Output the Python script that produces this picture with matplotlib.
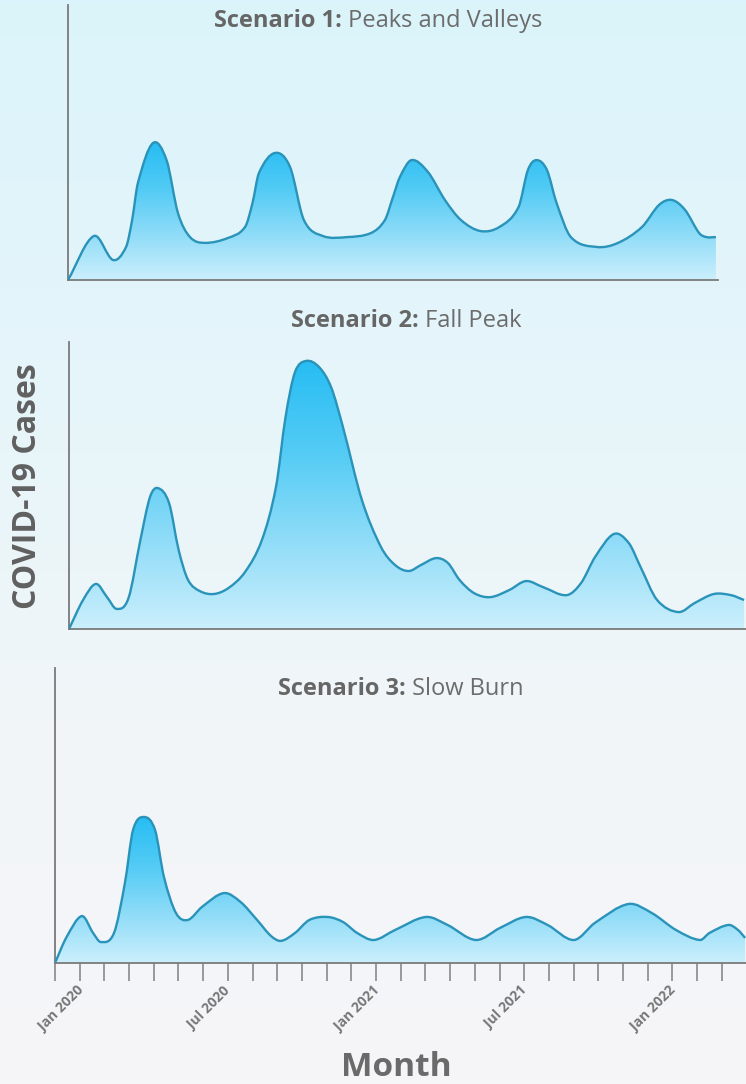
import numpy as np
import matplotlib.pyplot as plt
import matplotlib.transforms as mtransforms
from matplotlib.path import Path
from matplotlib.patches import PathPatch
from matplotlib.colors import LinearSegmentedColormap

plt.rcParams['font.family'] = ['Open Sans', 'DejaVu Sans']

# months since Jan 2020 and relative case level (0-100 of panel height)
s1_month = [0.0, 1.05, 1.82, 2.35, 2.6, 2.83, 3.44, 3.99, 4.45, 4.94, 5.53, 6.48, 7.17,
            7.47, 7.73, 8.38, 8.99, 9.55, 10.32, 11.30, 12.27, 12.83, 13.15, 13.44, 13.91,
            14.57, 15.26, 15.91, 16.70, 17.47, 18.24, 18.62, 18.97, 19.39, 19.78, 20.36,
            21.42, 22.27, 23.24, 23.93, 24.45, 24.98, 25.55, 25.85, 26.23]
s1_cases = [0.0, 16.0, 7.3, 12.0, 22.0, 35.3, 49.8, 43.6, 24.4, 15.6, 13.5, 15.3, 19.3,
            28.0, 38.9, 46.2, 41.1, 21.8, 16.0, 15.6, 17.1, 21.8, 30.0, 37.5, 43.6,
            39.3, 29.1, 21.8, 17.8, 19.3, 26.5, 40.0, 43.6, 40.0, 28.0, 15.6,
            12.0, 13.5, 19.3, 27.3, 29.1, 25.5, 17.1, 15.6, 15.6]

s2_month = [0.0, 0.57, 1.09, 1.54, 1.93, 2.41, 2.89, 3.28, 3.60, 4.05, 4.44, 4.82,
            5.30, 5.87, 6.46, 7.13, 7.81, 8.38, 8.77, 9.15, 9.60, 10.12, 10.61,
            11.09, 11.86, 12.63, 13.20, 13.75, 14.25, 14.86, 15.34, 15.81, 16.40,
            17.06, 17.83, 18.50, 19.19, 20.15, 20.73, 21.30, 22.06, 22.66, 23.14,
            23.81, 24.68, 25.34, 26.11, 26.80, 27.33]
s2_cases = [0.0, 10.1, 15.7, 11.1, 7.0, 10.8, 31.0, 46.0, 49.1, 43.9, 27.5, 17.1,
            13.2, 12.2, 14.3, 19.9, 31.0, 49.5, 74.0, 89.5, 93.4, 91.3, 84.3,
            70.4, 44.9, 28.6, 22.3, 20.2, 22.3, 24.7, 23.0, 17.1, 12.5,
            11.1, 13.6, 16.7, 14.6, 11.8, 16.0, 25.1, 33.1, 30.0, 21.6,
            10.1, 5.9, 9.1, 12.2, 11.8, 10.1]

s3_month = [0.0, 0.47, 1.09, 1.54, 1.86, 2.39, 2.83, 3.16, 3.60, 4.05, 4.41, 4.90,
            5.38, 5.95, 6.84, 7.51, 8.18, 8.74, 9.15, 9.72, 10.30, 11.04, 11.66,
            12.23, 12.91, 13.77, 15.02, 15.89, 17.04, 18.02, 19.07, 19.94, 21.01,
            21.86, 23.22, 24.17, 25.14, 26.11, 26.50, 27.27, 27.65, 27.94]
s3_cases = [0.0, 8.8, 15.9, 10.2, 7.1, 10.2, 27.1, 45.1, 49.5, 45.1, 29.2, 16.9,
            14.6, 19.0, 23.7, 20.7, 14.6, 9.2, 7.5, 10.2, 14.6, 15.6, 13.9,
            10.2, 7.8, 11.2, 15.6, 12.9, 7.8, 11.9, 15.6, 12.9, 7.8,
            13.6, 20.0, 16.9, 11.2, 7.8, 10.2, 12.9, 11.2, 8.5]

titles_bold = ['Scenario 1:', 'Scenario 2:', 'Scenario 3:']
titles_rest = ['Peaks and Valleys', 'Fall Peak', 'Slow Burn']

tick_months = list(range(28))
label_months = [0, 6, 12, 18, 24]
label_names = ['Jan 2020', 'Jul 2020', 'Jan 2021', 'Jul 2021', 'Jan 2022']

W, H = 746, 1084
PX_MONTH = 24.7
line_col = '#2a93b9'
fill_cmap = LinearSegmentedColormap.from_list(
    'fill', ['#cbeffc', '#8fdcf8', '#52cbf5', '#27bdf3'])


def smooth_path(xs, ys, closed=False):
    """Bezier curve through the points, tangents from neighbouring points."""
    x = np.asarray(xs, float)
    y = np.asarray(ys, float)
    h = np.diff(x)
    m = np.zeros_like(y)
    m[0] = (y[1] - y[0]) / h[0]
    m[-1] = (y[-1] - y[-2]) / h[-1]
    m[1:-1] = (y[2:] - y[:-2]) / (x[2:] - x[:-2])
    verts = [(x[0], y[0])]
    codes = [Path.MOVETO]
    for k in range(len(y) - 1):
        verts += [(x[k] + h[k] / 3, y[k] + m[k] * h[k] / 3),
                  (x[k + 1] - h[k] / 3, y[k + 1] - m[k + 1] * h[k] / 3),
                  (x[k + 1], y[k + 1])]
        codes += [Path.CURVE4] * 3
    if closed:
        verts += [(x[-1], 0), (x[0], 0), (x[0], 0)]
        codes += [Path.LINETO, Path.LINETO, Path.CLOSEPOLY]
    return Path(verts, codes)


fig = plt.figure(figsize=(W / 100, H / 100), dpi=100)

# background gradient
bg = fig.add_axes([0, 0, 1, 1], zorder=-10)
grad = np.linspace(0, 1, 256).reshape(-1, 1)
bg_cmap = LinearSegmentedColormap.from_list(
    'bg', ['#f6f6f9', '#f1f5f8', '#e5f5fa', '#dbf4fb'])
bg.imshow(grad, aspect='auto', cmap=bg_cmap, origin='lower', extent=[0, 1, 0, 1])
bg.axis('off')

# (left, right, top, bottom) in pixels
boxes = [(68, 718, 5, 280), (69, 746, 342, 629), (55, 746, 668, 963)]
series = [(s1_month, s1_cases), (s2_month, s2_cases), (s3_month, s3_cases)]
title_pos = [(378, 21), (406, 321), (401, 689)]

renderer = fig.canvas.get_renderer()

for k, ((l, r, t, b), (mx, cy)) in enumerate(zip(boxes, series)):
    ax = fig.add_axes([l / W, 1 - b / H, (r - l) / W, (b - t) / H])
    ax.set_facecolor('none')
    xmax = (r - l) / PX_MONTH

    area = PathPatch(smooth_path(mx, cy, closed=True), facecolor='none',
                     edgecolor='none', transform=ax.transData)
    ax.add_patch(area)
    img = ax.imshow(grad, aspect='auto', cmap=fill_cmap, origin='lower',
                    extent=[0, xmax, 0, max(cy)], zorder=1)
    img.set_clip_path(area)
    ax.add_patch(PathPatch(smooth_path(mx, cy), facecolor='none',
                           edgecolor=line_col, lw=1.7, zorder=3))
    ax.set_xlim(0, xmax)
    ax.set_ylim(0, 100)

    for s in ['top', 'right']:
        ax.spines[s].set_visible(False)
    for s in ['left', 'bottom']:
        ax.spines[s].set_color('#7a7a7a')
        ax.spines[s].set_linewidth(1.3)
    ax.set_yticks([])
    if k < 2:
        ax.set_xticks([])
    else:
        ax.set_xticks(tick_months)
        ax.set_xticklabels([label_names[label_months.index(m)] if m in label_months else ''
                            for m in tick_months],
                           rotation=45, ha='center', fontsize=10,
                           fontweight='bold', color='#777777')
        ax.tick_params(axis='x', length=13, width=1.2, color='#8a8a8a', pad=2)
        shift = mtransforms.ScaledTranslation(0.06, 0, fig.dpi_scale_trans)
        for lab in ax.get_xticklabels():
            lab.set_transform(lab.get_transform() + shift)

    # two-part title, bold prefix
    tx, ty = title_pos[k]
    t1 = fig.text(0, 0, titles_bold[k], fontsize=17, fontweight='bold', color='#666666')
    t2 = fig.text(0, 0, ' ' + titles_rest[k], fontsize=17, color='#6c6c6c')
    w1 = t1.get_window_extent(renderer).width
    w2 = t2.get_window_extent(renderer).width
    x0 = tx - (w1 + w2) / 2
    t1.set_position((x0 / W, 1 - ty / H))
    t2.set_position(((x0 + w1) / W, 1 - ty / H))
    t1.set_va('center')
    t2.set_va('center')

fig.text(28 / W, 1 - 486 / H, 'COVID-19 Cases', rotation=90, ha='center', va='center',
         fontsize=23, fontweight='bold', color='#606060')
fig.text(396 / W, 1 - 1068 / H, 'Month', ha='center', va='center',
         fontsize=24, fontweight='bold', color='#6a6a6a')

fig.savefig('out.png', dpi=100)
